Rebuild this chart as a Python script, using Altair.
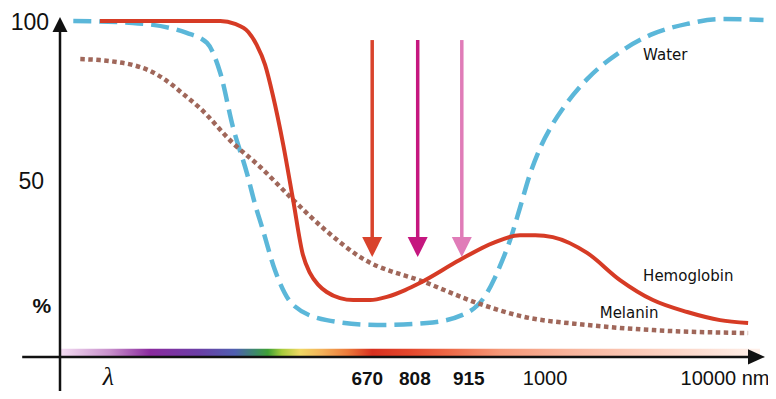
import altair as alt
import pandas as pd

# ---------------- data (x: relative spectral position 0-100, y: % absorption) -------------
water_x = [1.9, 10.4, 18.1, 21.0, 22.9, 24.7, 26.7, 27.9, 28.9, 30.7, 33.3, 38.1, 45.3,
           52.4, 58.1, 61.0, 62.1, 63.1, 64.3, 65.7, 67.1, 68.6, 70.3, 72.1, 75.3, 80.0,
           84.7, 89.6, 94.3, 100.5]
water_y = [100.0, 99.4, 96.3, 93.2, 83.9, 67.2, 52.9, 43.0, 35.9, 22.9, 12.1, 7.4, 5.9,
           6.5, 9.6, 15.8, 20.4, 25.4, 32.2, 42.1, 52.3, 60.7, 67.8, 73.7, 82.0, 90.4,
           96.0, 99.1, 100.6, 100.3]

hemo_x = [5.7, 22.9, 25.0, 26.9, 28.1, 29.3, 30.4, 31.9, 33.3, 34.7, 35.7, 36.9, 38.1,
          40.0, 41.9, 44.3, 46.7, 49.3, 51.4, 57.1, 61.9, 65.7, 67.9, 70.4, 75.3, 80.0,
          84.7, 89.6, 94.3, 98.3]
hemo_y = [100.0, 100.0, 99.1, 96.6, 92.6, 86.4, 77.1, 61.6, 44.6, 27.6, 22.0, 18.3, 16.1,
          14.2, 13.6, 13.6, 14.6, 16.7, 18.9, 26.0, 31.3, 33.7, 33.7, 33.1, 28.2, 19.8,
          13.6, 9.9, 7.4, 6.5]

melanin_x = [2.9, 5.7, 8.1, 10.4, 12.9, 15.3, 17.6, 20.0, 24.7, 28.6, 32.9, 37.9, 42.9,
             52.4, 59.6, 65.7, 75.3, 84.7, 98.3]
melanin_y = [88.2, 87.9, 87.3, 86.4, 84.5, 81.4, 77.4, 73.0, 62.2, 54.8, 45.5, 35.3, 26.9,
             18.9, 12.7, 8.7, 5.9, 4.3, 3.4]

laser_x = [44.6, 51.1, 57.4]
laser_colors = ["#D9432C", "#C5177F", "#E07CB8"]
laser_top = 94.1
laser_base = 32.2
laser_head = 30.0

tick_labels_bold = ["670", "808", "915"]
tick_pos_bold = [43.9, 50.7, 58.4]
tick_labels_reg = ["1000", "10000 nm"]
tick_pos_reg = [69.3, 95.0]
tick_baseline = -12.6

ylab_text = ["100", "50"]
ylab_x = [-4.3, -4.1]
ylab_y = [97.2, 48.0]

series_names = ["Water", "Hemoglobin", "Melanin"]
series_lab_x = [83.3, 83.3, 77.1]
series_lab_y = [87.9, 19.5, 8.0]

spectrum_offsets = [0.0, 0.071, 0.129, 0.2, 0.25, 0.279, 0.297, 0.317, 0.343, 0.374,
                    0.411, 0.446, 0.5, 0.557, 0.629, 0.729, 0.843, 1.0]
spectrum_colors = ["#F3DDF2", "#C890CC", "#8A2A9E", "#6A3FA6", "#4F5FB0", "#3D8A6A",
                   "#3FA036", "#A8CC3C", "#F0D864", "#F3B25A", "#EC7A3A", "#D8301F",
                   "#E4472C", "#EE6A48", "#F59878", "#F8B49C", "#FBCDBC", "#FEF0EA"]

# ---------------- scales ----------------
xs = alt.Scale(domain=[0, 100], range=[52, 752])
ys = alt.Scale(domain=[0, 100], range=[336, 13])


def X(f="x"):
    return alt.X(f"{f}:Q", scale=xs, axis=None)


def Y(f="y"):
    return alt.Y(f"{f}:Q", scale=ys, axis=None)


def curve(xv, yv, color, width, dash=None):
    df = pd.DataFrame({"x": xv, "y": yv})
    kw = dict(color=color, strokeWidth=width, interpolate="monotone", strokeCap="butt")
    if dash is not None:
        kw["strokeDash"] = dash
    return alt.Chart(df).mark_line(**kw).encode(x=X(), y=Y())


def texts(tx, xv, yv, size, font, weight="normal", style="normal", align="center"):
    df = pd.DataFrame({"t": tx, "x": xv, "y": yv})
    return alt.Chart(df).mark_text(
        fontSize=size, font=font, fontWeight=weight, fontStyle=style,
        align=align, baseline="alphabetic", color="#111111"
    ).encode(x=X(), y=Y(), text="t:N")


# spectrum bar
bar_df = pd.DataFrame({"x": [0], "x2": [100], "y": [-3.7], "y2": [-1.5]})
spectrum = alt.Chart(bar_df).mark_rect(
    fill=alt.Gradient(
        gradient="linear",
        stops=[alt.GradientStop(offset=o, color=c) for o, c in zip(spectrum_offsets, spectrum_colors)],
        x1=0, x2=1, y1=0, y2=0,
    )
).encode(x=X(), x2="x2:Q", y=Y(), y2="y2:Q")

# axes
yaxis_df = pd.DataFrame({"x": [0], "y": [97.0], "y2": [-16.0]})
yaxis = alt.Chart(yaxis_df).mark_rule(color="#111111", strokeWidth=2.5).encode(
    x=X(), y=Y(), y2="y2:Q")
xaxis_df = pd.DataFrame({"x": [-5.4], "x2": [98.6], "y": [-4.0]})
xaxis = alt.Chart(xaxis_df).mark_rule(color="#111111", strokeWidth=2.5).encode(
    x=X(), x2="x2:Q", y=Y())
yarrow = alt.Chart(pd.DataFrame({"x": [0], "y": [98.9]})).mark_point(
    shape="M-1,1L0,-1L1,1Z", size=225, filled=True, opacity=1, color="#111111"
).encode(x=X(), y=Y())
xarrow = alt.Chart(pd.DataFrame({"x": [99.5], "y": [-4.0]})).mark_point(
    shape="M-1,-0.9L1,0L-1,0.9Z", size=289, filled=True, opacity=1, color="#111111"
).encode(x=X(), y=Y())

# laser arrows
laser_df = pd.DataFrame({"x": laser_x, "c": laser_colors,
                         "y": [laser_top] * 3, "y2": [laser_base] * 3, "h": [laser_head] * 3})
shafts = alt.Chart(laser_df).mark_rule(strokeWidth=3.5).encode(
    x=X(), y=Y(), y2="y2:Q", color=alt.Color("c:N", scale=None))
heads = alt.Chart(laser_df).mark_point(
    shape="M-1,-1L1,-1L0,1Z", size=400, filled=True, opacity=1
).encode(x=X(), y=Y("h"), color=alt.Color("c:N", scale=None))

water = curve(water_x, water_y, "#5BB7D9", 4.5, [18, 8])
melanin = curve(melanin_x, melanin_y, "#A0675A", 4.5, [4.5, 3.5])
hemo = curve(hemo_x, hemo_y, "#D63B25", 4)

lab_bold = texts(tick_labels_bold, tick_pos_bold, [tick_baseline] * 3, 19, "Liberation Sans", "bold")
lab_reg = texts(tick_labels_reg, tick_pos_reg, [tick_baseline] * 2, 20, "Liberation Sans")
lab_lambda = texts(["λ"], [6.9], [tick_baseline], 26, "Liberation Serif", style="italic")
lab_y = texts(ylab_text, ylab_x, ylab_y, 23, "Liberation Sans")
lab_pct = texts(["%"], [-2.6], [9.6], 21, "Liberation Sans", "bold")
lab_series = texts(series_names, series_lab_x, series_lab_y, 15, "DejaVu Sans", align="left")

chart = alt.layer(
    spectrum, water, melanin, hemo, shafts, heads, xaxis, yaxis, xarrow, yarrow,
    lab_bold, lab_reg, lab_lambda, lab_y, lab_pct, lab_series
).properties(
    width=760, height=383, autosize=alt.AutoSizeParams(type="none"), padding=0,
    background="white"
).configure_view(stroke=None)

chart.save("out.html", embed_options={"renderer": "svg", "actions": False})
